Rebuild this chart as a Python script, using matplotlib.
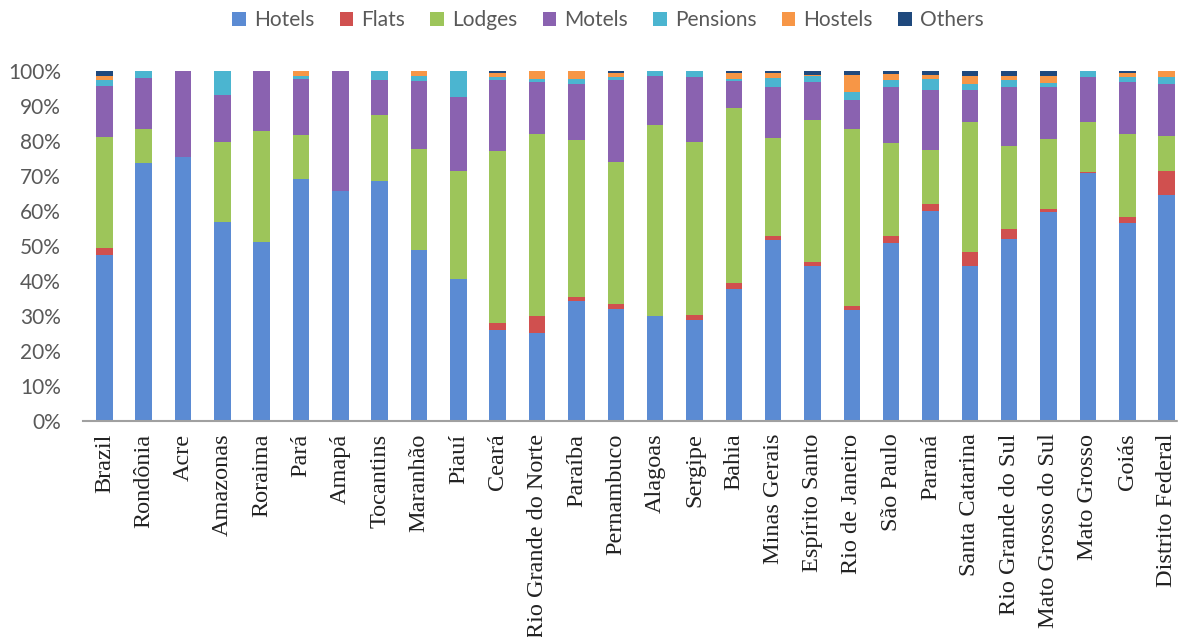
import numpy as np
import matplotlib
matplotlib.use("Agg")
import matplotlib.pyplot as plt

states = ["Brazil", "Rondônia", "Acre", "Amazonas", "Roraima", "Pará", "Amapá",
          "Tocantins", "Maranhão", "Piauí", "Ceará", "Rio Grande do Norte",
          "Paraíba", "Pernambuco", "Alagoas", "Sergipe", "Bahia", "Minas Gerais",
          "Espírito Santo", "Rio de Janeiro", "São Paulo", "Paraná",
          "Santa Catarina", "Rio Grande do Sul", "Mato Grosso do Sul",
          "Mato Grosso", "Goiás", "Distrito Federal"]

# shares in percent, one value per state
hotels = [47.6, 73.8, 75.5, 56.9, 51.2, 69.1, 65.9, 68.6, 49.0, 40.7, 26.1, 25.3, 34.2, 32.0,
          30.1, 28.9, 37.7, 51.7, 44.4, 31.8, 50.9, 60.0, 44.3, 52.0, 59.9, 70.9, 56.7, 64.7]
flats = [1.9, 0, 0, 0, 0, 0, 0, 0, 0, 0, 1.9, 4.8, 1.4, 1.4,
         0, 1.5, 1.8, 1.1, 1.1, 1.2, 2.1, 2.2, 4.0, 2.8, 0.7, 0.4, 1.6, 6.9]
lodges = [31.8, 9.6, 0, 22.8, 31.7, 12.7, 0, 18.8, 28.7, 30.9, 49.2, 52.1, 44.9, 40.7,
          54.5, 49.3, 50.1, 28.2, 40.7, 50.6, 26.6, 15.2, 37.1, 23.9, 20.0, 14.3, 23.8, 9.9]
motels = [14.6, 14.6, 24.5, 13.4, 17.1, 16.1, 34.1, 10.0, 19.5, 21.0, 20.4, 14.7, 15.9, 23.3,
          14.2, 18.6, 7.6, 14.5, 10.7, 8.3, 15.9, 17.3, 9.3, 16.8, 14.9, 12.7, 14.8, 14.9]
pensions = [1.5, 2.0, 0, 6.9, 0, 0.9, 0, 2.6, 1.4, 7.4, 0.7, 1.0, 1.5, 0.9,
            1.2, 1.7, 0.7, 2.6, 1.8, 2.2, 2.1, 3.2, 1.7, 1.9, 1.1, 1.7, 1.4, 1.9]
hostels = [1.4, 0, 0, 0, 0, 1.2, 0, 0, 1.4, 0, 1.2, 2.1, 2.1, 1.2,
           0, 0, 1.6, 1.4, 0.3, 4.9, 1.5, 1.1, 2.2, 1.3, 2.1, 0, 1.2, 1.7]
others = [1.2, 0, 0, 0, 0, 0, 0, 0, 0, 0, 0.5, 0, 0, 0.5,
          0, 0, 0.5, 0.5, 1.0, 1.0, 0.9, 1.0, 1.4, 1.3, 1.3, 0, 0.5, 0]

series = [("Hotels", hotels, "#5b8bd3"),
          ("Flats", flats, "#d0504f"),
          ("Lodges", lodges, "#9dc55a"),
          ("Motels", motels, "#8a62b0"),
          ("Pensions", pensions, "#4bb5d0"),
          ("Hostels", hostels, "#f79646"),
          ("Others", others, "#1f497d")]

fig = plt.figure(figsize=(11.78, 6.37), dpi=100)
ax = fig.add_axes([0.0705, 0.339, 0.9295, 0.549])

x = np.arange(len(states))
bottom = np.zeros(len(states))
handles = []
for name, vals, col in series:
    v = np.array(vals, dtype=float)
    b = ax.bar(x, v, 0.42, bottom=bottom, color=col, label=name)
    handles.append(b)
    bottom += v

ax.set_xlim(-0.54, 27.29)
ax.set_ylim(0, 100)
ax.set_yticks(np.arange(0, 101, 10))
ax.set_yticklabels([f"{t}%" for t in range(0, 101, 10)], family="Lato",
                   fontsize=15, color="#595959")
ax.set_xticks(x)
ax.set_xticklabels(states, rotation=90, family="Liberation Serif",
                   fontsize=17.5, color="#222222")
ax.tick_params(axis="y", length=0, pad=16)
ax.tick_params(axis="x", length=0, pad=9)

for s in ["top", "right", "left"]:
    ax.spines[s].set_visible(False)
ax.spines["bottom"].set_color("#a0a0a0")
ax.spines["bottom"].set_linestyle((0, (1, 1)))
ax.spines["bottom"].set_linewidth(1.5)

fig.legend(handles=handles, loc="center", bbox_to_anchor=(608 / 1178, 1 - 20 / 637),
           ncol=7, frameon=False, handlelength=0.65, handleheight=0.65,
           handletextpad=0.4, columnspacing=1.2,
           prop={"family": "Lato", "size": 15}, labelcolor="#595959")

fig.savefig("out.png", dpi=100)
